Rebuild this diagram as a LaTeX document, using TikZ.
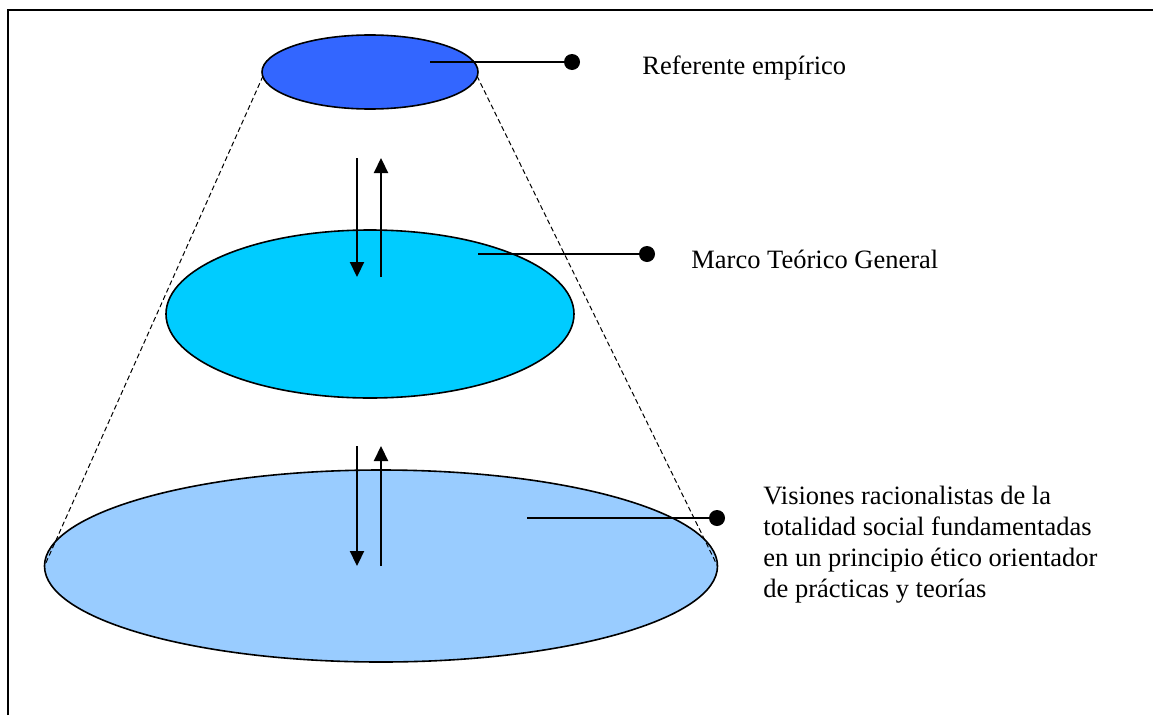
\documentclass[tikz,border=0pt]{standalone}
\usepackage{fontspec}
\setmainfont{Liberation Serif}
\usepackage{tikz}
\usetikzlibrary{positioning,arrows.meta,shapes.geometric}
\definecolor{topblue}{HTML}{3366FF}
\definecolor{midblue}{HTML}{00CCFF}
\definecolor{lowblue}{HTML}{99CCFF}

\begin{document}
\begin{tikzpicture}[x=1pt, y=-1pt,
  layer/.style={draw, ellipse, inner sep=0pt, outer sep=0pt, line width=1.6pt},
  flow/.style={line width=2.2pt, -{Triangle[length=15pt, width=14pt]}},
  lead/.style={line width=2.2pt},
  dot/.style={circle, fill, inner sep=0pt, minimum size=16pt},
  lbl/.style={font=\fontsize{26.5}{31}\selectfont, inner sep=0pt, align=left},
  node distance=5mm]
\useasboundingbox (0,0) rectangle (1153,715);
\draw[line width=2.2pt] (8,715) -- (8,10) -- (1153,10);
\node[layer, fill=lowblue, minimum width=673pt, minimum height=192pt] (vis) at (381,566) {};
\node[layer, fill=midblue, minimum width=408pt, minimum height=168pt] (mtg) at (370,314) {};
\coordinate (apexl) at (263,76); \coordinate (apexr) at (477,76);
\draw[dash pattern=on 5pt off 3pt, line width=1pt] (apexl) -- (vis.west);
\draw[dash pattern=on 5pt off 3pt, line width=1pt] (apexr) -- (vis.east);
\node[layer, fill=topblue, minimum width=216pt, minimum height=74pt] (ref) at (370,72) {};
% flechas entre niveles
\coordinate (a1) at (357,158); \coordinate (a2) at (357,277);
\coordinate (b1) at (381,277); \coordinate (b2) at (381,158);
\coordinate (c1) at (357,446); \coordinate (c2) at (357,566);
\coordinate (d1) at (381,566); \coordinate (d2) at (381,446);
\draw[flow] (a1) -- (a2); \draw[flow] (b1) -- (b2);
\draw[flow] (c1) -- (c2); \draw[flow] (d1) -- (d2);
% etiquetas
\node[dot] (refdot) at (572,62) {};
\node[dot] (mtgdot) at (647,254) {};
\node[dot] (visdot) at (717,518) {};
\draw[lead] ([xshift=60pt, yshift=10pt]ref.center) -- (refdot);
\draw[lead] ([xshift=108pt, yshift=60pt]mtg.center) -- (mtgdot);
\draw[lead] ([xshift=146pt, yshift=48pt]vis.center) -- (visdot);
\node[lbl, right=62pt of refdot, yshift=-6pt] (reftxt) {Referente empírico};
\node[lbl, right=36pt of mtgdot, yshift=-5pt] (mtgtxt) {Marco Teórico General};
\node[lbl, right=38pt of visdot, yshift=-27pt] (vistxt) {Visiones racionalistas de la\\
totalidad social fundamentadas\\ en un principio ético orientador\\ de prácticas y teorías};
\end{tikzpicture}
\end{document}
